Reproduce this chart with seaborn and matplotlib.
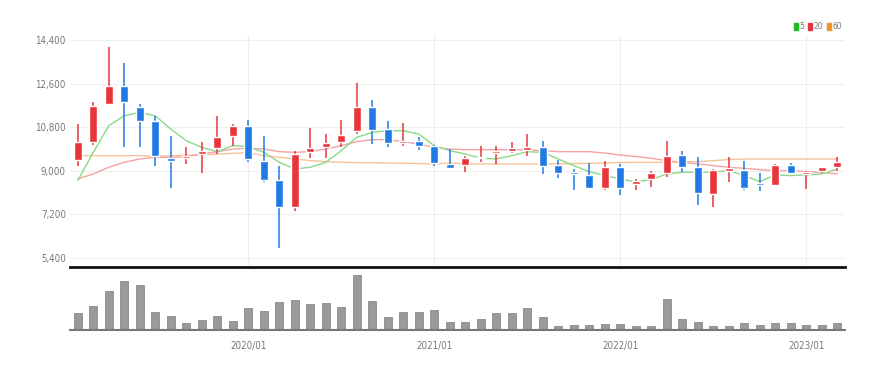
import matplotlib.pyplot as plt
from matplotlib.patches import Patch
import seaborn as sns
import numpy as np

# monthly candles, 2019/02 .. 2023/03
opens  = [9461, 10202, 11752, 12507, 11615, 11066, 9529, 9516, 9694, 9927, 10421, 10833,
          9420, 8638, 7499, 9763, 9968, 10202, 10627, 11642, 10723, 10147, 10243, 10037,
          9283, 9241, 9516, 9735, 9831, 9872, 9968, 9255, 8939, 8830, 8281, 9173,
          8459, 8665, 8912, 9667, 9173, 8048, 9008, 9049, 8487, 8418, 9255, 8871, 9008, 9173]
closes = [10174, 11683, 12507, 11848, 11066, 9598, 9420, 9598, 9831, 10408, 10833, 9488,
          8638, 7499, 9694, 9941, 10147, 10490, 11642, 10696, 10133, 10243, 10037, 9324,
          9118, 9516, 9584, 9817, 9955, 9996, 9214, 8898, 8871, 8281, 9173, 8281,
          8569, 8912, 9625, 9145, 8075, 9035, 9104, 8295, 8432, 9241, 8898, 8967, 9145, 9351]
highs  = [10929, 11848, 14126, 13440, 11752, 11272, 10449, 9968, 10174, 11272, 10929, 11093,
          10449, 9214, 9831, 10751, 10517, 11093, 12616, 11917, 11066, 10970, 10380, 10065,
          9900, 9625, 10037, 10037, 10202, 10517, 10243, 9461, 9077, 9324, 9420, 9283,
          8665, 9008, 10243, 9804, 9557, 9077, 9584, 9420, 8912, 9283, 9324, 9008, 9173, 9584]
lows   = [9214, 10065, 11752, 9968, 9968, 9186, 8281, 9283, 8912, 9694, 10037, 9378,
          8555, 5811, 7321, 9516, 9516, 9996, 10517, 10106, 9996, 10037, 9872, 9214,
          9077, 8967, 9378, 9283, 9735, 9598, 8871, 8692, 8226, 8253, 8226, 8006,
          8226, 8322, 8734, 8967, 7595, 7499, 8555, 8212, 8171, 8418, 8871, 8253, 8898, 9008]
volumes = [50, 73, 118, 148, 135, 53, 43, 20, 30, 43, 28, 65,
           58, 83, 90, 78, 80, 68, 166, 88, 38, 55, 53, 60,
           25, 25, 33, 50, 50, 65, 38, 12, 15, 15, 18, 18,
           12, 12, 95, 33, 23, 12, 12, 20, 15, 20, 20, 15, 15, 20]

ma5  = [8596, 9763, 10860, 11272, 11409, 11272, 10723, 10243, 9968, 9790, 10037, 10000,
        9763, 9351, 9077, 9145, 9351, 9831, 10380, 10586, 10655, 10655, 10517, 10037,
        9831, 9694, 9516, 9488, 9625, 9790, 9763, 9488, 9214, 8967, 8802, 8665,
        8540, 8638, 8871, 8939, 8939, 8939, 9008, 8802, 8555, 8830, 8802, 8830, 8871, 9077]
ma20 = [8665, 8871, 9145, 9351, 9488, 9557, 9557, 9584, 9694, 9790, 9900, 9930,
        9900, 9790, 9763, 9790, 9900, 10037, 10202, 10284, 10284, 10202, 10106, 9968,
        9900, 9872, 9872, 9872, 9872, 9872, 9831, 9790, 9790, 9790, 9735, 9653,
        9590, 9516, 9420, 9351, 9283, 9214, 9145, 9104, 9049, 9008, 9008, 8967, 8939, 8871]
ma60 = [9625, 9625, 9625, 9625, 9625, 9600, 9625, 9640, 9660, 9690, 9720, 9750,
        9625, 9557, 9488, 9420, 9378, 9351, 9340, 9330, 9320, 9310, 9300, 9283,
        9324, 9283, 9283, 9283, 9283, 9283, 9283, 9290, 9300, 9310, 9320, 9340,
        9351, 9351, 9351, 9378, 9378, 9420, 9461, 9488, 9488, 9488, 9488, 9488, 9488, 9488]

tick_pos = [11, 23, 35, 47]
tick_labels = ['2020/01', '2021/01', '2022/01', '2023/01']
price_ticks = [5400, 7200, 9000, 10800, 12600, 14400]

RED = '#e8353b'
BLUE = '#1f7ae6'
LABEL = dict(fontsize=7, color='#777777', fontstretch='condensed')

sns.set_theme(style='white')
plt.rcParams['font.family'] = ['DejaVu Sans']

fig = plt.figure(figsize=(8.91, 3.70), dpi=100)
ax = fig.add_axes([70 / 891, 1 - 267 / 370, 775 / 891, 232 / 370])
axv = fig.add_axes([70 / 891, 1 - 330 / 370, 775 / 891, 63 / 370])

x = np.arange(len(opens))

# moving averages
sns.lineplot(x=x, y=ma60, ax=ax, color='#f7c29a', lw=1.0, zorder=1)
sns.lineplot(x=x, y=ma20, ax=ax, color='#f3a3a3', lw=1.0, zorder=1)
sns.lineplot(x=x, y=ma5, ax=ax, color='#8ad88a', lw=1.0, zorder=1)

# candles
colors = [RED if c >= o else BLUE for o, c in zip(opens, closes)]
ax.vlines(x, lows, highs, colors=colors, lw=1.1, zorder=2)
bottoms = [min(o, c) for o, c in zip(opens, closes)]
heights = [max(abs(c - o), 40) for o, c in zip(opens, closes)]
ax.bar(x, heights, bottom=bottoms, width=0.5, color=colors, zorder=3)

ax.set_xlim(-0.5, 49.5)
ax.set_ylim(5029, 14606)
ax.set_yticks(price_ticks)
ax.set_yticklabels([f'{v:,}' for v in price_ticks], **LABEL)
ax.set_xticks(tick_pos)
ax.set_xticklabels([])
ax.tick_params(axis='both', length=0, pad=3)
ax.grid(True, color='#eeeeee', lw=0.8)
for s in ax.spines.values():
    s.set_visible(False)

# legend
handles = [Patch(color='#22b822', label='5'), Patch(color=RED, label='20'),
           Patch(color='#f0952a', label='60')]
leg = fig.legend(handles=handles, loc='upper right', bbox_to_anchor=(846 / 891, 1 - 18 / 370),
                 ncol=3, frameon=False, handlelength=0.5, handleheight=0.9,
                 handletextpad=0.2, columnspacing=0.4, borderpad=0,
                 prop={'size': 6, 'stretch': 'condensed'})
for t in leg.get_texts():
    t.set_color('#777777')

# volume
sns.barplot(x=x, y=volumes, ax=axv, color='#9a9a9a', width=0.5, edgecolor='#8a8a8a',
            linewidth=0.6, saturation=1)
axv.set_xlim(-0.5, 49.5)
axv.set_ylim(0, 190)
axv.set_yticks([])
axv.set_ylabel('')
axv.set_xticks(tick_pos)
axv.set_xticklabels(tick_labels, **LABEL)
axv.tick_params(axis='x', length=3, width=0.8, color='#777777', pad=5)
for s in ['left', 'right']:
    axv.spines[s].set_visible(False)
axv.spines['top'].set_color('#111111')
axv.spines['top'].set_linewidth(2)
axv.spines['bottom'].set_color('#777777')
axv.spines['bottom'].set_linewidth(1.5)

fig.savefig('out.png', dpi=100)
